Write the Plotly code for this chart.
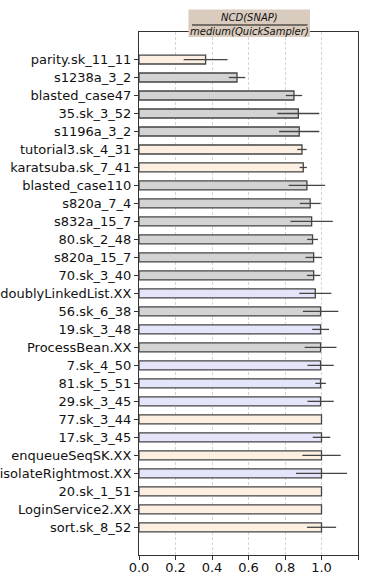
import plotly.graph_objects as go

categories = ["parity.sk_11_11", "s1238a_3_2", "blasted_case47", "35.sk_3_52", "s1196a_3_2",
              "tutorial3.sk_4_31", "karatsuba.sk_7_41", "blasted_case110", "s820a_7_4", "s832a_15_7",
              "80.sk_2_48", "s820a_15_7", "70.sk_3_40", "doublyLinkedList.XX", "56.sk_6_38",
              "19.sk_3_48", "ProcessBean.XX", "7.sk_4_50", "81.sk_5_51", "29.sk_3_45",
              "77.sk_3_44", "17.sk_3_45", "enqueueSeqSK.XX", "isolateRightmost.XX", "20.sk_1_51",
              "LoginService2.XX", "sort.sk_8_52"]
values = [0.365, 0.537, 0.849, 0.873, 0.878, 0.893, 0.900, 0.920, 0.938, 0.946,
          0.951, 0.957, 0.957, 0.966, 0.995, 0.995, 0.995, 0.995, 0.995, 0.995,
          1.0, 1.0, 1.0, 1.0, 1.0, 1.0, 1.0]
errors = [0.12, 0.045, 0.045, 0.115, 0.11, 0.026, 0.02, 0.10, 0.057, 0.116,
          0.03, 0.045, 0.037, 0.088, 0.097, 0.046, 0.087, 0.072, 0.029, 0.072,
          0.0, 0.048, 0.105, 0.14, 0.0, 0.0, 0.08]
groups = ["p", "g", "g", "g", "g", "p", "p", "g", "g", "g",
          "g", "g", "g", "l", "g", "l", "g", "l", "l", "l",
          "p", "l", "p", "l", "p", "p", "p"]
group_colors = {"p": "#fdf0e3", "g": "#d3d3d3", "l": "#e4e4fb"}
x_ticks = [0.0, 0.2, 0.4, 0.6, 0.8, 1.0, 1.2]

ypos = list(range(len(categories)))
colors = [group_colors[g] for g in groups]

fig = go.Figure()
fig.add_trace(go.Bar(
    y=ypos, x=values, orientation="h", width=0.5,
    marker=dict(color=colors, line=dict(color="#444444", width=1.3)),
    error_x=dict(type="data", array=errors, symmetric=True, width=0,
                 thickness=1.3, color="#444444"),
))
# invisible trace to carry the tick-mark-only overlay axis
fig.add_trace(go.Scatter(x=[x_ticks[0], x_ticks[-1]], y=[ypos[0], ypos[0]], xaxis="x2",
                         mode="markers", marker=dict(opacity=0), hoverinfo="skip"))

W, H = 366, 574
L, R, T, B = 139, 358, 32, 555
pw, ph = R - L, B - T

def px(x):
    return (x - L) / pw

def py(y):
    return (B - y) / ph

fig.update_layout(
    width=W, height=H,
    margin=dict(l=L, r=W - R, t=T, b=H - B, pad=0),
    plot_bgcolor="white", paper_bgcolor="white",
    showlegend=False,
    font=dict(family="DejaVu Sans", size=13, color="#111111"),
    xaxis=dict(range=[0, 1.2], tickvals=x_ticks, ticktext=[f"{v:.1f}" for v in x_ticks],
               showgrid=True, gridcolor="#d4d4d4", griddash="3px,2px", gridwidth=0.8,
               showline=True, linecolor="#333333", linewidth=1, mirror=True,
               ticks="", zeroline=False, automargin=False, tickfont=dict(size=13)),
    xaxis2=dict(range=[0, 1.2], tickvals=x_ticks, overlaying="x", side="bottom", anchor="y",
                showticklabels=False, showgrid=False, zeroline=False, showline=False,
                ticks="outside", ticklen=4, tickcolor="#333333", automargin=False),
    yaxis=dict(range=[26 + 1.54, -1.53], tickvals=ypos, ticktext=categories,
               showgrid=False, showline=True, linecolor="#333333", linewidth=1, mirror=True,
               ticks="outside", ticklen=4, tickcolor="#333333", zeroline=False,
               automargin=False, tickfont=dict(size=13)),
    shapes=[
        dict(type="rect", xref="paper", yref="paper", x0=px(188.5), x1=px(310), y0=py(37), y1=py(9.5),
             fillcolor="#d9ccbe", line=dict(width=0), layer="above"),
        dict(type="line", xref="paper", yref="paper", x0=px(192), x1=px(307.5), y0=py(25), y1=py(25),
             line=dict(color="#111111", width=1), layer="above"),
    ],
    annotations=[
        dict(xref="paper", yref="paper", x=px(249), y=py(17), text="<i>NCD(SNAP)</i>",
             showarrow=False, font=dict(size=10, family="DejaVu Sans", color="#111111"),
             xanchor="center", yanchor="middle"),
        dict(xref="paper", yref="paper", x=px(249.5), y=py(31), text="<i>medium(QuickSampler)</i>",
             showarrow=False, font=dict(size=10, family="DejaVu Sans", color="#111111"),
             xanchor="center", yanchor="middle"),
    ],
)

fig.write_html("out.html")
